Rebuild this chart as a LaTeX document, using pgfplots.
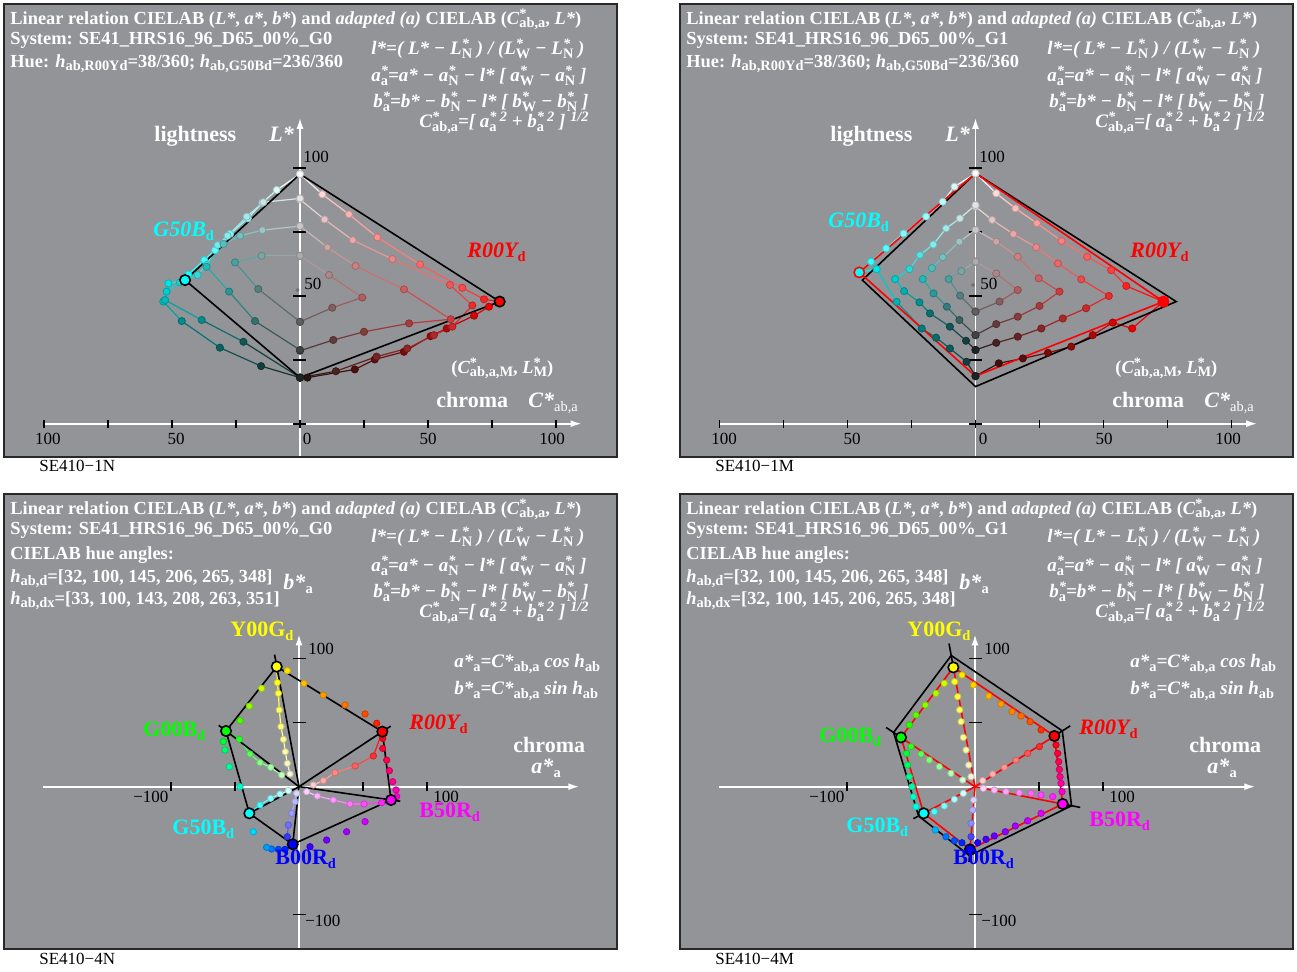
\documentclass[border=0pt]{standalone}
\usepackage{fontspec}
\setmainfont{Liberation Serif}
\usepackage{pgfplots}
\pgfplotsset{compat=1.18}
\usepackage{pgfplotstable}
\usetikzlibrary{arrows.meta}

\definecolor{panelgray}{RGB}{147,148,152}
\definecolor{framegray}{RGB}{40,40,40}
\definecolor{cY}{RGB}{255,255,0}
\definecolor{cR}{RGB}{255,0,0}
\definecolor{cM}{RGB}{255,0,255}
\definecolor{cB}{RGB}{0,0,255}
\definecolor{cC}{RGB}{0,255,255}
\definecolor{cG}{RGB}{0,255,0}

% colour ramps along each row: meta 0 = first stop, meta 2 = last stop
\pgfplotsset{
 colormap={cmRa}{rgb255=(250,250,250) rgb255=(255,0,0) rgb255=(30,20,20)},
 colormap={cmRb}{rgb255=(228,228,228) rgb255=(235,45,45) rgb255=(35,30,30)},
 colormap={cmRc}{rgb255=(200,200,200) rgb255=(205,60,60) rgb255=(65,58,58)},
 colormap={cmRd}{rgb255=(172,172,172) rgb255=(175,95,95) rgb255=(95,92,92)},
 colormap={cmGa}{rgb255=(250,250,250) rgb255=(125,252,252) rgb255=(0,255,255) rgb255=(0,125,125) rgb255=(30,36,36)},
 colormap={cmGb}{rgb255=(228,228,228) rgb255=(130,235,235) rgb255=(0,205,205) rgb255=(10,110,110) rgb255=(30,36,36)},
 colormap={cmGc}{rgb255=(200,200,200) rgb255=(35,185,185) rgb255=(65,65,65)},
 colormap={cmGd}{rgb255=(172,172,172) rgb255=(75,160,160) rgb255=(95,95,95)},
 colormap={cmYR}{rgb255=(255,255,0) rgb255=(255,140,0) rgb255=(255,0,0)},
 colormap={cmRM}{rgb255=(255,0,0) rgb255=(255,0,110) rgb255=(255,0,255)},
 colormap={cmMB}{rgb255=(255,0,255) rgb255=(140,0,255) rgb255=(0,0,255)},
 colormap={cmBC}{rgb255=(0,0,255) rgb255=(0,130,255) rgb255=(0,255,255)},
 colormap={cmCG}{rgb255=(0,255,255) rgb255=(0,255,130) rgb255=(0,255,0)},
 colormap={cmGY}{rgb255=(0,255,0) rgb255=(150,255,0) rgb255=(255,255,0)},
 colormap={msY}{rgb255=(255,255,0) rgb255=(255,255,130) rgb255=(245,245,215)},
 colormap={msR}{rgb255=(255,0,0) rgb255=(255,120,120) rgb255=(255,205,205)},
 colormap={msM}{rgb255=(255,0,255) rgb255=(255,130,255) rgb255=(255,210,255)},
 colormap={msB}{rgb255=(0,0,255) rgb255=(140,140,255) rgb255=(215,215,255)},
 colormap={msC}{rgb255=(0,255,255) rgb255=(130,255,255) rgb255=(210,255,255)},
 colormap={msG}{rgb255=(0,255,0) rgb255=(130,255,130) rgb255=(210,255,210)},
}

\pgfplotsset{
 panel/.style={axis lines=none, clip=false, anchor=south west,
   point meta min=0, point meta max=2},
 lcpanel/.style={panel, x=1.28pt, y=1.28pt, ymin=-13.0, ymax=163.95},
 abpanel/.style={panel, x=0.64pt, y=0.64pt, ymin=-126.8, ymax=228.67},
}

% a row of samples: coloured connecting line plus coloured dots
\newcommand\crow[3][1.8pt]{%
 \addplot[mesh, colormap name=#3, point meta=explicit, line width=0.6pt] table[meta index=2] {#2};
 \addplot[scatter, only marks, mark=*, mark size=#1, colormap name=#3, point meta=explicit] table[meta index=2] {#2};}
% dots only
\newcommand\drow[3][1.6pt]{%
 \addplot[scatter, only marks, mark=*, mark size=#1, colormap name=#3, point meta=explicit] table[meta index=2] {#2};}
% marked hue vertex
\newcommand\vtx[4][black]{%
 \addplot[only marks, mark=*, mark size=2.6pt, mark options={draw=#1, line width=0.8pt, fill=#2}] coordinates {(#3,#4)};}

\newcommand\lcaxes{%
 \fill[panelgray] (rel axis cs:0,0) rectangle (rel axis cs:1,1);
 \draw[white, line width=0.9pt, -{Latex[length=5.5pt,width=3.5pt]}] (axis cs:-100,0) -- (axis cs:110,0);
 \draw[white, line width=0.9pt, -{Latex[length=5.5pt,width=3.5pt]}] (axis cs:0,-13) -- (axis cs:0,119.5);
 \pgfplotsinvokeforeach{-100,-75,-50,-25,0,25,50,75,100}{\draw[black, line width=0.8pt] (axis cs:##1,-1.6) -- (axis cs:##1,1.6);}
 \pgfplotsinvokeforeach{0,25,50,75,100}{\draw[black, line width=0.8pt] (axis cs:-2.6,##1) -- (axis cs:2.4,##1);}
}
\newcommand\abaxes{%
 \fill[panelgray] (rel axis cs:0,0) rectangle (rel axis cs:1,1);
 \draw[white, line width=0.9pt, -{Latex[length=5.5pt,width=3.5pt]}] (axis cs:-200,0) -- (axis cs:219,0);
 \draw[white, line width=0.9pt, -{Latex[length=5.5pt,width=3.5pt]}] (axis cs:0,-126.8) -- (axis cs:0,119);
 \pgfplotsinvokeforeach{-100,-50,50,100}{\draw[black, line width=0.8pt] (axis cs:##1,-3.4) -- (axis cs:##1,3.4);}
 \pgfplotsinvokeforeach{-100,50,100}{\draw[black, line width=0.8pt] (axis cs:-4.8,##1) -- (axis cs:5.2,##1);}
}
\newcommand\frm{\draw[framegray, line width=1pt] (rel axis cs:0,0) rectangle (rel axis cs:1,1);}

% ---------- text helpers ----------
\newcommand\hd{\fontsize{9.2}{11}\selectfont\bfseries}
\newcommand\fm{\fontsize{9.5}{11}\selectfont\bfseries}
\newcommand\lbf{\fontsize{11}{13}\selectfont\bfseries}
\newcommand\tk{\fontsize{8.5}{10}\selectfont\mdseries}
\newcommand\sbs[1]{\raisebox{-0.35ex}{\fontsize{7.2}{8}\selectfont\upshape #1}}
\newcommand\sps[1]{\raisebox{0.75ex}{\fontsize{7.2}{8}\selectfont #1}}
\newcommand\sn[2]{\rlap{\sps{#1}}\sbs{#2}}
\newcommand\hA{Linear relation CIELAB (\textit{L*}, \textit{a*}, \textit{b*}) and \textit{adapted (a)} CIELAB (\textit{C}\sn{*}{ab,a}, \textit{L*})}
\newcommand\fA{\textit{l*=( L* − L\sn{*}{N} ) / (L\sn{*}{W} − L\sn{*}{N} )}}
\newcommand\fB{\textit{a\sn{*}{a}=a* − a\sn{*}{N} − l* [ a\sn{*}{W} − a\sn{*}{N} ]}}
\newcommand\fC{\textit{b\sn{*}{a}=b* − b\sn{*}{N} − l* [ b\sn{*}{W} − b\sn{*}{N} ]}}
\newcommand\fD{\textit{C\sn{*}{ab,a}=[ a\sn{*}{a}\,\sps{2} + b\sn{*}{a}\,\sps{2} ] \sps{1/2}}}
\newcommand\fE{\textit{a*\sbs{a}=C*\sbs{ab,a} cos h\sbs{ab}}}
\newcommand\fF{\textit{b*\sbs{a}=C*\sbs{ab,a} sin h\sbs{ab}}}
\newcommand\tnode[3][]{\node[anchor=base west, inner sep=0pt, text=white, #1] at (#2) {#3};}
\newcommand\cnode[3][]{\node[anchor=base, inner sep=0pt, text=black, #1] at (#2) {#3};}

% ================= data: (C*ab,a, L*) planes, system G0 =================
\pgfplotstableread{
x y m
0 97.5 0
8.7 89.6 0.14
19.1 81.8 0.29
30.2 72.8 0.43
46.9 62.2 0.57
63.4 53.1 0.71
71.9 48.6 0.86
78.0 47.7 1.0
73.8 45.7 1.1
68.0 42.2 1.2
57.3 37.2 1.35
51.0 34.2 1.45
40.6 28.1 1.6
29.2 25.1 1.7
21.4 21.2 1.8
2.9 18.0 1.95
0 18.0 2
}\aRa
\pgfplotstableread{
x y m
0 87.6 0
9.6 79.8 0.17
20.6 71.7 0.33
36.1 64.3 0.5
58.6 54.2 0.75
67.3 46.2 1.0
59.5 37.9 1.15
52.3 34.6 1.3
41.9 29.4 1.45
29.9 26.2 1.6
14.0 20.5 1.8
0 18.0 2
}\aRb
\pgfplotstableread{
x y m
0 77.2 0
10.7 68.9 0.25
21.7 61.6 0.5
40.6 52.5 0.75
58.9 40.8 1.0
42.6 39.2 1.25
25.0 35.9 1.5
13.0 32.7 1.75
0 28.5 2
}\aRc
\pgfplotstableread{
x y m
0 65.6 0
11.3 58.1 0.5
24.3 49.3 1.0
12.6 45.3 1.5
0 39.8 2
}\aRd
\pgfplotstableread{
x y m
0 97.5 0
-9.1 91.3 0.12
-14.7 86.3 0.25
-20.4 80.2 0.37
-27.3 74.1 0.5
-33.2 67.8 0.62
-37.4 63.9 0.75
-43.6 58.3 0.9
-44.9 56.1 1.0
-51.4 54.8 1.1
-53.4 47.7 1.25
-46.2 40.1 1.45
-31.3 29.7 1.65
-15.2 22.5 1.85
0 18.0 2
}\aGa
\pgfplotstableread{
x y m
0 88.0 0
-14.3 86.5 0.15
-20.8 80.9 0.3
-28.3 73.4 0.45
-32.2 69.8 0.55
-36.5 62.0 0.7
-40.0 58.1 0.8
-46.9 55.2 0.9
-52.1 51.6 1.0
-52.7 48.3 1.1
-38.4 40.5 1.35
-22.1 32.0 1.65
0 18.0 2
}\aGb
\pgfplotstableread{
x y m
0 77.2 0
-14.7 75.6 0.25
-23.4 73.4 0.5
-29.9 70.2 0.7
-36.5 61.3 1.0
-27.7 51.6 1.3
-17.6 40.1 1.6
0 28.8 2
}\aGc
\pgfplotstableread{
x y m
0 65.6 0
-15.0 65.6 0.5
-25.4 63.0 1.0
-16.3 52.6 1.5
0 39.8 2
}\aGd

% ================= data: (C*ab,a, L*) planes, system G1 =================
\pgfplotstableread{
x y m
0 97.8 0
8.1 90.0 0.12
15.6 84.1 0.25
24.0 78.3 0.37
33.6 71.4 0.5
43.6 65.2 0.62
53.0 60.0 0.75
58.9 53.8 0.87
73.4 47.7 1.0
61.2 37.2 1.1
53.6 39.5 1.2
45.8 34.6 1.35
37.4 30.1 1.5
28.3 27.7 1.6
18.5 25.5 1.75
9.1 23.6 1.87
0 18.6 2
}\bRa
\pgfplotstableread{
x y m
0 84.8 0
6.5 79.6 0.17
14.8 74.1 0.33
23.7 68.9 0.5
32.2 62.6 0.67
41.3 56.4 0.83
52.1 49.9 1.0
43.2 45.1 1.17
34.1 41.1 1.33
25.7 37.2 1.5
16.5 34.0 1.67
8.1 31.6 1.83
0 28.8 2
}\bRb
\pgfplotstableread{
x y m
0 75.7 0
8.1 71.1 0.25
16.5 65.2 0.5
24.7 56.8 0.75
32.8 51.6 1.0
25.0 46.0 1.25
16.5 41.8 1.5
8.1 38.9 1.75
0 34.6 2
}\bRc
\pgfplotstableread{
x y m
0 63.3 0
8.1 58.7 0.5
16.5 52.2 1.0
9.4 47.7 1.5
0 43.8 2
}\bRd
\pgfplotstableread{
x y m
0 97.8 0
-8.2 92.6 0.12
-12.8 86.7 0.25
-19.3 80.9 0.37
-28.1 74.3 0.5
-34.9 68.5 0.65
-40.8 63.3 0.8
-45.4 59.1 1.0
-38.6 60.4 1.1
-30.8 47.6 1.3
-21.0 37.2 1.5
-15.4 33.6 1.6
-10.0 29.4 1.7
-3.5 24.2 1.85
0 18.6 2
}\bGa
\pgfplotstableread{
x y m
0 85.4 0
-6.1 80.2 0.17
-11.5 76.3 0.33
-16.5 70.0 0.5
-21.7 65.9 0.67
-25.8 60.4 0.83
-31.4 56.5 1.0
-27.9 51.8 1.17
-21.9 47.4 1.33
-17.8 43.1 1.5
-10.0 37.9 1.67
-3.7 32.4 1.83
0 28.8 2
}\bGb
\pgfplotstableread{
x y m
0 75.7 0
-6.3 71.1 0.25
-12.8 65.0 0.5
-17.0 60.8 0.75
-20.6 56.5 1.0
-16.4 50.9 1.25
-11.2 45.7 1.5
-6.3 40.5 1.75
0 34.6 2
}\bGc
\pgfplotstableread{
x y m
0 63.3 0
-5.5 59.6 0.5
-10.5 56.5 1.0
-6.0 50.0 1.5
0 43.8 2
}\bGd

% ================= data: (a*a, b*a) plane, system G0 =================
\pgfplotstableread{
x y m
-9.1 90.6 0.25
3.9 80.7 0.55
19.0 71.6 0.85
35.9 63.8 1.15
51.6 56.8 1.45
60.7 49.5 1.75
}\cYR
\pgfplotstableread{
x y m
65.4 37.8 0.25
65.4 29.9 0.5
68.5 20.8 0.75
70.6 12.5 1.0
73.2 3.9 1.25
75.8 -2.6 1.5
76.3 -7.8 1.75
}\cRM
\pgfplotstableread{
x y m
51.6 -27.3 0.4
37.2 -35.2 0.8
21.6 -41.7 1.2
8.6 -46.9 1.6
}\cMB
\pgfplotstableread{
x y m
-10.9 -49.0 0.3
-16.1 -49.0 0.6
-21.4 -48.7 0.9
-25.3 -47.4 1.2
-35.7 -35.2 1.7
}\cBC
\pgfplotstableread{
x y m
-46.1 0.0 0.4
-54.4 15.6 0.8
-57.8 28.6 1.2
-59.1 35.2 1.6
}\cCG
\pgfplotstableread{
x y m
-46.1 51.6 0.5
-38.8 63.0 1.0
-29.2 76.8 1.5
}\cGY
\pgfplotstableread{
x y m
-17.4 93.8 0
-16.9 81.3 0.25
-16.1 72.9 0.5
-15.4 59.9 0.75
-14.1 46.9 1.0
-12.2 37.0 1.25
-10.7 27.3 1.5
-9.1 18.2 1.75
-7.0 9.9 2
}\csY
\pgfplotstableread{
x y m
65.1 43.0 0
58.1 24.0 0.4
43.8 16.1 0.8
28.1 10.9 1.2
19.0 4.7 1.6
11.2 1.3 2
}\csR
\pgfplotstableread{
x y m
71.9 -10.4 0
64.6 -12.5 0.3
50.8 -13.5 0.6
39.8 -13.5 0.9
26.8 -10.4 1.25
14.3 -7.3 1.6
6.0 -3.9 2
}\csM
\pgfplotstableread{
x y m
-4.9 -45.0 0
-9.1 -39.1 0.4
-8.3 -29.9 0.8
-5.7 -20.8 1.2
-3.1 -11.7 1.6
-1.8 -5.2 2
}\csB
\pgfplotstableread{
x y m
-38.8 -20.8 0
-30.5 -14.3 0.5
-22.1 -9.1 1.0
-14.8 -5.7 1.5
-8.3 -3.1 2
}\csC
\pgfplotstableread{
x y m
-57.0 43.5 0
-46.6 37.0 0.35
-38.3 25.5 0.7
-30.5 18.8 1.05
-22.1 15.1 1.4
-13.5 9.1 1.75
}\csG

% ================= data: (a*a, b*a) plane, system G1 =================
\pgfplotstableread{
x y m
-10.2 87.2 0.2
-1.3 79.4 0.4
10.7 70.8 0.65
20.3 64.6 0.85
28.9 58.6 1.05
35.9 55.2 1.2
43.0 50.8 1.4
51.6 44.3 1.65
}\dYR
\pgfplotstableread{
x y m
63.3 32.6 0.25
64.6 26.0 0.5
65.4 19.5 0.75
65.9 13.5 1.0
66.4 7.8 1.2
67.2 2.6 1.4
68.0 -3.9 1.65
}\dRM
\pgfplotstableread{
x y m
51.6 -20.8 0.25
41.1 -26.6 0.5
31.5 -30.7 0.75
23.7 -35.2 1.0
15.1 -38.5 1.25
8.6 -41.1 1.5
2.1 -43.8 1.75
}\dMB
\pgfplotstableread{
x y m
-10.2 -43.8 0.3
-16.1 -42.2 0.6
-22.7 -39.1 0.9
-31.0 -33.9 1.4
}\dBC
\pgfplotstableread{
x y m
-46.1 -15.6 0.2
-48.2 -7.8 0.45
-49.2 0.0 0.7
-51.3 7.8 0.95
-52.6 16.9 1.25
-53.5 26.0 1.55
}\dCG
\pgfplotstableread{
x y m
-51.3 48.2 0.3
-46.1 56.0 0.6
-38.8 63.8 0.9
-30.5 72.9 1.25
-24.0 80.7 1.55
}\dGY
\pgfplotstableread{
x y m
-15.9 82.0 0.25
-13.5 70.3 0.5
-12.0 60.0 0.7
-10.9 50.8 0.9
-9.1 38.5 1.15
-7.0 28.6 1.4
-4.9 16.9 1.7
-3.1 7.8 2
}\dsY
\pgfplotstableread{
x y m
50.3 31.3 0.35
41.1 26.0 0.7
32.0 20.8 1.0
22.9 15.1 1.35
13.8 9.9 1.65
6.0 4.7 2
}\dsR
\pgfplotstableread{
x y m
60.7 -7.8 0.3
51.6 -6.5 0.55
43.8 -5.2 0.8
34.6 -4.7 1.1
24.2 -3.9 1.4
15.1 -2.6 1.7
6.5 -1.3 2
}\dsM
\pgfplotstableread{
x y m
-3.1 -39.1 0.5
-3.1 -28.6 1.0
-1.8 -18.2 1.5
-1.0 -10.4 2
}\dsB
\pgfplotstableread{
x y m
-31.8 -19.5 0.5
-24.0 -15.1 1.0
-16.1 -9.9 1.5
-9.1 -5.2 2
}\dsC
\pgfplotstableread{
x y m
-50.0 31.3 0.35
-42.2 25.5 0.7
-35.7 20.8 1.0
-27.9 15.6 1.3
-18.8 10.4 1.65
-9.6 5.2 2
}\dsG

\begin{document}
\begin{tikzpicture}
\useasboundingbox (0,0) rectangle (648.5pt,486pt);

% ---------------- SE410-1N ----------------
\begin{axis}[lcpanel, at={(2pt,257.5pt)}, xmin=-115.63, xmax=123.83]
 \lcaxes
 \crow{\aRa}{cmRa} \crow{\aRb}{cmRb} \crow{\aRc}{cmRc} \crow{\aRd}{cmRd}
 \crow{\aGa}{cmGa} \crow{\aGb}{cmGb} \crow{\aGc}{cmGc} \crow{\aGd}{cmGd}
 \addplot[only marks, mark=*, mark size=0.8pt, color=black!55] coordinates {(-1,52.2)};
 \addplot[black, line width=0.8pt] coordinates {(0,97.5) (78,47.7) (0,18.0) (-44.9,56.1) (0,97.5)};
 \vtx{cR}{78}{47.7}
 \vtx{cC}{-44.9}{56.1}
 \frm
\end{axis}

% ---------------- SE410-1M ----------------
\begin{axis}[lcpanel, at={(340pt,257.5pt)}, xmin=-115.43, xmax=124.02]
 \lcaxes
 \crow{\bRa}{cmRa} \crow{\bRb}{cmRb} \crow{\bRc}{cmRc} \crow{\bRd}{cmRd}
 \crow{\bGa}{cmGa} \crow{\bGb}{cmGb} \crow{\bGc}{cmGc} \crow{\bGd}{cmGd}
 \addplot[only marks, mark=*, mark size=0.8pt, color=black!55] coordinates {(-1,54.2)};
 \addplot[black, line width=0.8pt] coordinates {(0,97.8) (78.4,47.7) (0,14.5) (-44.2,56.1) (0,97.8)};
 \addplot[cR, line width=0.8pt] coordinates {(0,97.8) (73.4,47.7) (0,18.6) (-45.4,59.1) (0,97.8)};
 \vtx[cR]{cR}{73.4}{47.7}
 \vtx[cR]{cC}{-45.4}{59.1}
 \frm
\end{axis}

% ---------------- SE410-4N ----------------
\begin{axis}[abpanel, at={(2pt,11.5pt)}, xmin=-230.47, xmax=248.44]
 \abaxes
 \crow[1.6pt]{\csY}{msY} \crow[1.6pt]{\csR}{msR} \crow[1.6pt]{\csM}{msM}
 \crow[1.6pt]{\csB}{msB} \crow[1.6pt]{\csC}{msC} \crow[1.6pt]{\csG}{msG}
 \drow{\cYR}{cmYR} \drow{\cRM}{cmRM} \drow{\cMB}{cmMB}
 \drow{\cBC}{cmBC} \drow{\cCG}{cmCG} \drow{\cGY}{cmGY}
 \vtx{cY}{-17.4}{93.8} \vtx{cR}{65.1}{43.0} \vtx{cM}{71.9}{-10.4}
 \vtx{cB}{-4.9}{-45.0} \vtx{cC}{-38.8}{-20.8} \vtx{cG}{-57.0}{43.5}
 \addplot[black, line width=0.8pt] coordinates {(-17.4,93.8) (65.1,43.0) (71.9,-10.4) (-4.9,-45.0) (-38.8,-20.8) (-57.0,43.5) (-17.4,93.8)};
 \addplot[black, line width=0.8pt] coordinates {(0,0) (-19.1,103.2)};
 \addplot[black, line width=0.8pt] coordinates {(0,0) (71.6,47.3)};
 \addplot[black, line width=0.8pt] coordinates {(0,0) (79.1,-11.4)};
 \addplot[black, line width=0.8pt] coordinates {(0,0) (-5.4,-49.5)};
 \addplot[black, line width=0.8pt] coordinates {(0,0) (-42.7,-22.9)};
 \addplot[black, line width=0.8pt] coordinates {(0,0) (-62.7,47.9)};
 \frm
\end{axis}

% ---------------- SE410-4M ----------------
\begin{axis}[abpanel, at={(340pt,11.5pt)}, xmin=-230.47, xmax=248.44]
 \abaxes
 \drow{\dsY}{msY} \drow{\dsR}{msR} \drow{\dsM}{msM}
 \drow{\dsB}{msB} \drow{\dsC}{msC} \drow{\dsG}{msG}
 \drow{\dYR}{cmYR} \drow{\dRM}{cmRM} \drow{\dMB}{cmMB}
 \drow{\dBC}{cmBC} \drow{\dCG}{cmCG} \drow{\dGY}{cmGY}
 \addplot[black, line width=0.8pt] coordinates {(-18.6,102.5) (68.2,43.6) (75.4,-14.9) (-4.3,-53.9) (-44.1,-22.9) (-63.6,42.4) (-18.6,102.5)};
 \addplot[black, line width=0.8pt] coordinates {(-16.9,93.2) (-20.3,111.8)};
 \addplot[black, line width=0.8pt] coordinates {(62.0,39.6) (74.4,47.5)};
 \addplot[black, line width=0.8pt] coordinates {(68.5,-13.5) (82.2,-16.2)};
 \addplot[black, line width=0.8pt] coordinates {(-3.9,-49.0) (-4.7,-58.8)};
 \addplot[black, line width=0.8pt] coordinates {(-40.1,-20.8) (-48.1,-25.0)};
 \addplot[black, line width=0.8pt] coordinates {(-57.8,38.5) (-69.4,46.2)};
 \vtx{cY}{-16.9}{93.2} \vtx{cR}{62.0}{39.6} \vtx{cM}{68.5}{-13.5}
 \vtx{cB}{-3.9}{-49.0} \vtx{cC}{-40.1}{-20.8} \vtx{cG}{-57.8}{38.5}
 \addplot[cR, line width=0.8pt] coordinates {(-16.9,93.2) (62.0,39.6) (68.5,-13.5) (-3.9,-49.0) (-40.1,-20.8) (-57.8,38.5) (-16.9,93.2)};
 \addplot[cR, line width=0.8pt] coordinates {(0,0) (-16.9,93.2)};
 \addplot[cR, line width=0.8pt] coordinates {(0,0) (62.0,39.6)};
 \addplot[cR, line width=0.8pt] coordinates {(0,0) (68.5,-13.5)};
 \addplot[cR, line width=0.8pt] coordinates {(0,0) (-3.9,-49.0)};
 \addplot[cR, line width=0.8pt] coordinates {(0,0) (-40.1,-20.8)};
 \addplot[cR, line width=0.8pt] coordinates {(0,0) (-57.8,38.5)};
 \frm
\end{axis}

% ---------------- texts (pixel grid, origin top left) ----------------
\begin{scope}[shift={(0pt,486pt)}, x=0.5pt, y=-0.5pt]
 % panel 1
 \tnode{10,25}{\hd\hA}
 \tnode{10,45}{\hd System: SE41\_HRS16\_96\_D65\_00\%\_G0}
 \tnode{10,68}{\hd Hue: \textit{h}\sbs{ab,R00Yd}=38/360; \textit{h}\sbs{ab,G50Bd}=236/360}
 \tnode{371,55}{\fm\fA}
 \tnode{371,82}{\fm\fB}
 \tnode{373,108}{\fm\fC}
 \tnode{419,128}{\fm\fD}
 \tnode{154,142}{\lbf lightness}
 \tnode{269,142}{\lbf\textit{L*}}
 \tnode[text=black]{303,163}{\tk 100}
 \tnode[text=black]{304,290}{\tk 50}
 \tnode[text=cC]{153,237}{\lbf\textit{G50B\sbs{d}}}
 \tnode[text=cR]{467,258}{\lbf\textit{R00Y\sbs{d}}}
 \tnode{451,374}{\hd(\textit{C}\sn{*}{ab,a,M}, \textit{L}\sn{*}{M})}
 \tnode{436,408}{\lbf chroma}
 \tnode{528,408}{\lbf\textit{C*}\sbs{\mdseries ab,a}}
 \cnode{48,445}{\tk 100} \cnode{176,445}{\tk 50} \cnode{307,445}{\tk 0}
 \cnode{428,445}{\tk 50} \cnode{552,445}{\tk 100}
 \tnode[text=black]{39,472}{\tk SE410−1N}
 % panel 2
 \tnode{686,25}{\hd\hA}
 \tnode{686,45}{\hd System: SE41\_HRS16\_96\_D65\_00\%\_G1}
 \tnode{686,68}{\hd Hue: \textit{h}\sbs{ab,R00Yd}=38/360; \textit{h}\sbs{ab,G50Bd}=236/360}
 \tnode{1047,55}{\fm\fA}
 \tnode{1047,82}{\fm\fB}
 \tnode{1049,108}{\fm\fC}
 \tnode{1095,128}{\fm\fD}
 \tnode{830,142}{\lbf lightness}
 \tnode{945,142}{\lbf\textit{L*}}
 \tnode[text=black]{979,163}{\tk 100}
 \tnode[text=black]{980,290}{\tk 50}
 \tnode[text=cC]{828,228}{\lbf\textit{G50B\sbs{d}}}
 \tnode[text=cR]{1130,258}{\lbf\textit{R00Y\sbs{d}}}
 \tnode{1115,374}{\hd(\textit{C}\sn{*}{ab,a,M}, \textit{L}\sn{*}{M})}
 \tnode{1112,408}{\lbf chroma}
 \tnode{1204,408}{\lbf\textit{C*}\sbs{\mdseries ab,a}}
 \cnode{724,445}{\tk 100} \cnode{852,445}{\tk 50} \cnode{983,445}{\tk 0}
 \cnode{1104,445}{\tk 50} \cnode{1228,445}{\tk 100}
 \tnode[text=black]{715,472}{\tk SE410−1M}
 % panel 3
 \tnode{10,515}{\hd\hA}
 \tnode{10,535}{\hd System: SE41\_HRS16\_96\_D65\_00\%\_G0}
 \tnode{10,560}{\hd CIELAB hue angles:}
 \tnode{10,583}{\hd\textit{h}\sbs{ab,d}=[32, 100, 145, 206, 265, 348]}
 \tnode{10,605}{\hd\textit{h}\sbs{ab,dx}=[33, 100, 143, 208, 263, 351]}
 \tnode{283,590}{\lbf\textit{b*}\sbs{a}}
 \tnode{371,543}{\fm\fA}
 \tnode{371,572}{\fm\fB}
 \tnode{373,598}{\fm\fC}
 \tnode{419,618}{\fm\fD}
 \tnode{454,668}{\fm\fE}
 \tnode{454,695}{\fm\fF}
 \tnode{513,753}{\lbf chroma}
 \tnode{531,774}{\lbf\textit{a*}\sbs{a}}
 \tnode[text=cY]{230,637}{\lbf Y00G\sbs{d}}
 \tnode[text=cG]{143,737}{\lbf G00B\sbs{d}}
 \tnode[text=cR]{409,730}{\lbf\textit{R00Y\sbs{d}}}
 \tnode[text=cC]{172,835}{\lbf G50B\sbs{d}}
 \tnode[text=cM]{419,818}{\lbf B50R\sbs{d}}
 \tnode[text=cB]{275,865}{\lbf B00R\sbs{d}}
 \tnode[text=black]{133,803}{\tk −100}
 \tnode[text=black]{433,803}{\tk 100}
 \tnode[text=black]{308,655}{\tk 100}
 \tnode[text=black]{305,927}{\tk −100}
 \tnode[text=black]{39,965}{\tk SE410−4N}
 % panel 4
 \tnode{686,515}{\hd\hA}
 \tnode{686,535}{\hd System: SE41\_HRS16\_96\_D65\_00\%\_G1}
 \tnode{686,560}{\hd CIELAB hue angles:}
 \tnode{686,583}{\hd\textit{h}\sbs{ab,d}=[32, 100, 145, 206, 265, 348]}
 \tnode{686,605}{\hd\textit{h}\sbs{ab,dx}=[32, 100, 145, 206, 265, 348]}
 \tnode{959,590}{\lbf\textit{b*}\sbs{a}}
 \tnode{1047,543}{\fm\fA}
 \tnode{1047,572}{\fm\fB}
 \tnode{1049,598}{\fm\fC}
 \tnode{1095,618}{\fm\fD}
 \tnode{1130,668}{\fm\fE}
 \tnode{1130,695}{\fm\fF}
 \tnode{1189,753}{\lbf chroma}
 \tnode{1207,774}{\lbf\textit{a*}\sbs{a}}
 \tnode[text=cY]{907,637}{\lbf Y00G\sbs{d}}
 \tnode[text=cG]{819,743}{\lbf G00B\sbs{d}}
 \tnode[text=cR]{1079,735}{\lbf\textit{R00Y\sbs{d}}}
 \tnode[text=cC]{846,833}{\lbf G50B\sbs{d}}
 \tnode[text=cM]{1089,827}{\lbf B50R\sbs{d}}
 \tnode[text=cB]{953,865}{\lbf B00R\sbs{d}}
 \tnode[text=black]{809,803}{\tk −100}
 \tnode[text=black]{1109,803}{\tk 100}
 \tnode[text=black]{984,655}{\tk 100}
 \tnode[text=black]{981,927}{\tk −100}
 \tnode[text=black]{715,965}{\tk SE410−4M}
\end{scope}
\end{tikzpicture}
\end{document}
